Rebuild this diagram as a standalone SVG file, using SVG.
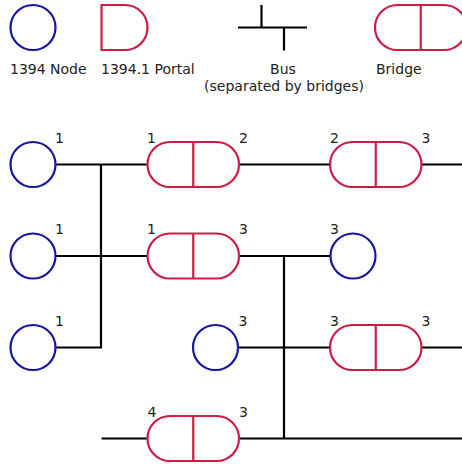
<svg xmlns="http://www.w3.org/2000/svg" width="462" height="464" viewBox="0 0 462 464">
  <style>
    .node { fill: #fff; stroke: #1616a0; stroke-width: 2.2; }
    .portal, .bridge { fill: #fff; stroke: #cc1c44; stroke-width: 2.2; }
    .bus { fill: none; stroke: #000; stroke-width: 2.2; }
    text { font-family: "DejaVu Sans", "Liberation Sans", sans-serif; font-size: 14px; fill: #222; }
  </style>
  <defs>
    <g id="bridge-shape">
      <rect class="bridge" x="0" y="-22.5" width="91.5" height="45" rx="22.5" ry="22.5"/>
      <line class="bridge" x1="45.75" y1="-22.5" x2="45.75" y2="22.5"/>
    </g>
  </defs>

  <!-- Legend -->
  <g id="legend">
    <g id="legend-node">
      <circle class="node" cx="33" cy="27.5" r="22.5"/>
      <text x="10" y="74">1394 Node</text>
    </g>
    <g id="legend-portal">
      <path class="portal" d="M101.5,5 H125 A22.5,22.5 0 0 1 125,50 H101.5 Z"/>
      <text x="101" y="74">1394.1 Portal</text>
    </g>
    <g id="legend-bus">
      <path class="bus" d="M238,27.5 H307 M261.5,5 V27.5 M284,27.5 V50.5"/>
      <text x="283" y="74" text-anchor="middle">Bus</text>
      <text x="284" y="91" text-anchor="middle">(separated by bridges)</text>
    </g>
    <g id="legend-bridge">
      <use href="#bridge-shape" x="375" y="27.5"/>
      <text x="376" y="74">Bridge</text>
    </g>
  </g>

  <!-- Bus connectors -->
  <g id="connectors">
    <!-- bus 1 -->
    <path class="bus" d="M55.5,164.5 H147.5 M55.5,256 H147.5 M55.5,347.5 H101 V164.5"/>
    <!-- bus 2 -->
    <path class="bus" d="M239,164.5 H330"/>
    <!-- bus 3 -->
    <path class="bus" d="M239,256 H330.5 M238,347.5 H330 M239,438.5 H462 M284,256 V438.5"/>
    <!-- outer buses -->
    <path class="bus" d="M421.5,164.5 H462 M421.5,347.5 H462 M101.5,438.5 H147.5"/>
  </g>

  <!-- Nodes -->
  <g id="node-a"><circle class="node" cx="33" cy="164.5" r="22.5"/><text x="55" y="142.5">1</text></g>
  <g id="node-b"><circle class="node" cx="33" cy="256" r="22.5"/><text x="55" y="234">1</text></g>
  <g id="node-c"><circle class="node" cx="33" cy="347.5" r="22.5"/><text x="55" y="325.5">1</text></g>
  <g id="node-d"><circle class="node" cx="353" cy="256" r="22.5"/><text x="330" y="234">3</text></g>
  <g id="node-e"><circle class="node" cx="215.5" cy="347.5" r="22.5"/><text x="238.5" y="325.5">3</text></g>

  <!-- Bridges -->
  <g id="bridge-1"><use href="#bridge-shape" x="147.5" y="164.5"/><text x="147" y="142.5">1</text><text x="239" y="142.5">2</text></g>
  <g id="bridge-2"><use href="#bridge-shape" x="330" y="164.5"/><text x="330" y="142.5">2</text><text x="421.5" y="142.5">3</text></g>
  <g id="bridge-3"><use href="#bridge-shape" x="147.5" y="256"/><text x="147" y="234">1</text><text x="239" y="234">3</text></g>
  <g id="bridge-4"><use href="#bridge-shape" x="330" y="347.5"/><text x="330" y="325.5">3</text><text x="421.5" y="325.5">3</text></g>
  <g id="bridge-5"><use href="#bridge-shape" x="147.5" y="438.5"/><text x="147.5" y="416.5">4</text><text x="239" y="416.5">3</text></g>
</svg>
